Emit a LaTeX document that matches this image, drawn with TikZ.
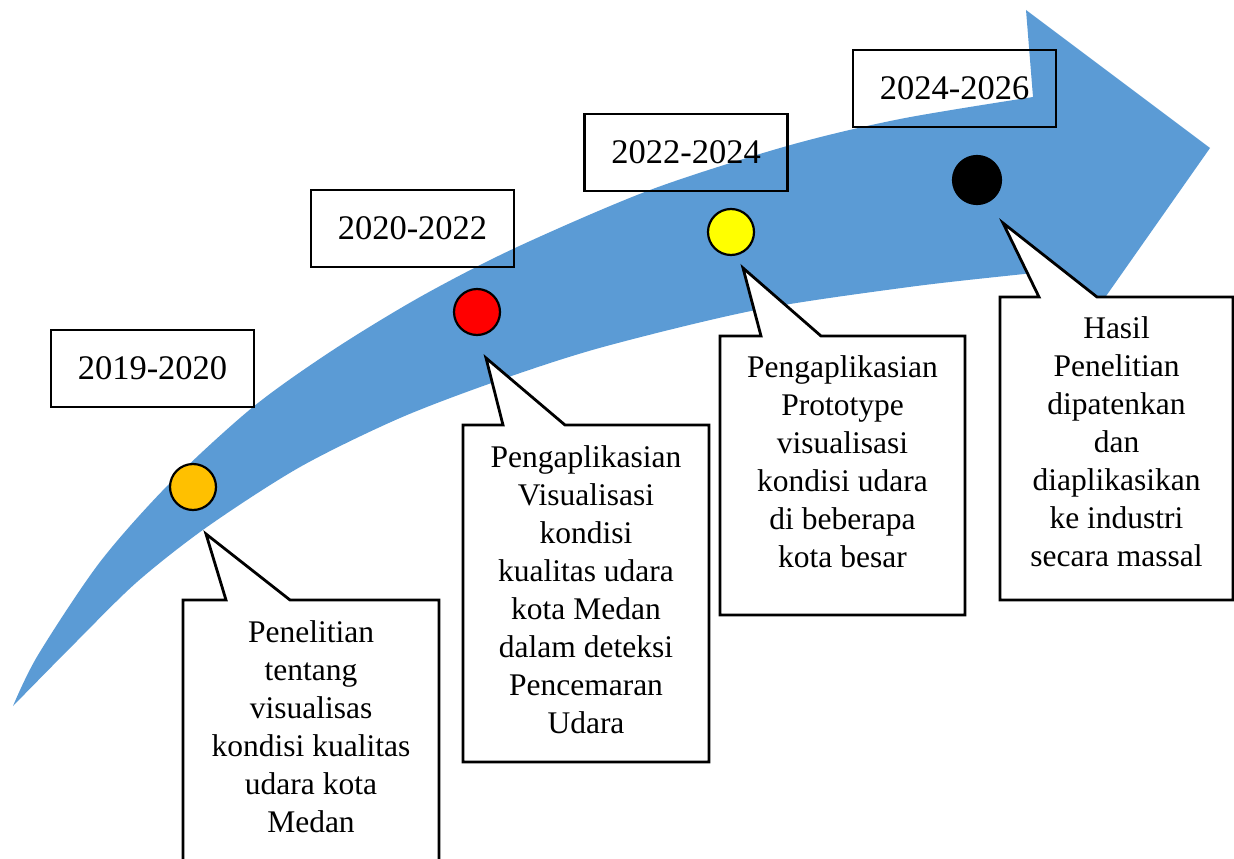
\documentclass[tikz,border=0pt]{standalone}
\usepackage{fontspec}
\setmainfont{Liberation Serif}
\definecolor{arrowblue}{HTML}{5B9BD5}
\definecolor{dotorange}{HTML}{FFC000}
\definecolor{dotred}{HTML}{FF0000}
\definecolor{dotyellow}{HTML}{FFFF00}
\begin{document}
\begin{tikzpicture}[x=1pt,y=-1pt,
  outline/.style={line width=2.8pt, draw=black, line join=miter},
  yearbox/.style={outline, minimum width=203pt, minimum height=77pt, inner sep=0pt,
    font=\fontsize{34.5pt}{40pt}\selectfont},
  callout/.style={outline, fill=white},
  % multi-line text: the base anchor sits on the last line
  calltext/.style={align=center, inner sep=0pt, anchor=base,
    font=\fontsize{31.5pt}{38pt}\selectfont},
  dot/.style={circle, minimum size=46pt, inner sep=0pt, draw=black, line width=2.2pt}
]
\useasboundingbox (0,0) rectangle (1234,859);
\clip (0,0) rectangle (1234,859);

% curved timeline arrow
\fill[arrowblue]
  plot[smooth] coordinates {(13,706) (38,655) (100,562) (170,483) (253,407) (333,350)
    (420,297) (515,248) (650,190) (787,146) (900,119) (1033,97)}
  -- (1026,10) -- (1210,148) -- (1078,336) -- (1055,271)
  -- plot[smooth] coordinates {(1055,271) (1024,274) (909,287) (756,310) (603,347)
    (500,380) (400,418) (300,467) (207,527) (137,582) (75,643) (13,706)}
  -- cycle;

% period labels
\node[yearbox] (y1) at (152.5,368.5) {2019-2020};
\node[yearbox] (y2) at (412.5,228.5) {2020-2022};
\node[yearbox] (y3) at (686,152.5) {2022-2024};
\node[yearbox] (y4) at (954.5,88.5) {2024-2026};

% milestone dots
\node[dot, fill=dotorange] (d1) at (193,487) {};
\node[dot, fill=dotred] (d2) at (477,312) {};
\node[dot, fill=dotyellow] (d3) at (731,232) {};
\node[dot, fill=black, minimum size=48pt] (d4) at (977,180) {};

% callout pointer tips
\coordinate (t1) at (206,534);
\coordinate (t2) at (486,358);
\coordinate (t3) at (743,268);
\coordinate (t4) at (1003,223);

% callout boxes
\draw[callout] (183,600) -- (226,600) -- (t1) -- (290,600) -- (439,600)
  -- (439,875) -- (183,875) -- cycle;
\draw[callout] (463,425) -- (503,425) -- (t2) -- (565,425) -- (709,425)
  -- (709,762) -- (463,762) -- cycle;
\draw[callout] (720,336) -- (761,336) -- (t3) -- (821,336) -- (965,336)
  -- (965,615) -- (720,615) -- cycle;
\draw[callout] (1000,297) -- (1039,297) -- (t4) -- (1097,297) -- (1233,297)
  -- (1233,600) -- (1000,600) -- cycle;

% callout texts
\node[calltext] (c1) at (311,832)
  {Penelitian\\tentang\\visualisas\\kondisi kualitas\\udara kota\\Medan};
\node[calltext] (c2) at (586,733)
  {Pengaplikasian\\Visualisasi\\kondisi\\kualitas udara\\kota Medan\\dalam deteksi\\Pencemaran\\Udara};
\node[calltext] (c3) at (842.5,567)
  {Pengaplikasian\\Prototype\\visualisasi\\kondisi udara\\di beberapa\\kota besar};
\node[calltext] (c4) at (1116.5,566)
  {Hasil\\Penelitian\\dipatenkan\\dan\\diaplikasikan\\ke industri\\secara massal};
\end{tikzpicture}
\end{document}
